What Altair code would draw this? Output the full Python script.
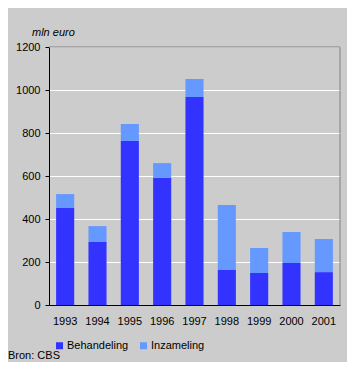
import altair as alt
import pandas as pd

years = ["1993", "1994", "1995", "1996", "1997", "1998", "1999", "2000", "2001"]
behandeling = [451, 293, 763, 591, 967, 163, 149, 195, 153]
inzameling = [65, 74, 79, 69, 84, 302, 116, 145, 154]
series = ["Behandeling", "Inzameling"]
colors = ["#3333FF", "#6699FF"]
y_ticks = [0, 200, 400, 600, 800, 1000, 1200]
unit_label = "mln euro"
source_label = "Bron: CBS"

rows = []
for i, yr in enumerate(years):
    rows.append({"jaar": yr, "soort": series[0], "waarde": behandeling[i], "volg": 0})
    rows.append({"jaar": yr, "soort": series[1], "waarde": inzameling[i], "volg": 1})
df = pd.DataFrame(rows)

font = "Liberation Sans"

bars = alt.Chart(df).mark_bar(strokeWidth=0).encode(
    x=alt.X(
        "jaar:N", title=None, sort=years,
        scale=alt.Scale(paddingInner=0.44, paddingOuter=0.22),
        axis=alt.Axis(labelAngle=0, ticks=False, tickSize=0, labelPadding=10,
                      domainColor="black", labelColor="black", labelFont=font,
                      labelFontSize=11, grid=False),
    ),
    y=alt.Y(
        "waarde:Q", stack="zero", title=None,
        scale=alt.Scale(domain=[0, 1200], nice=False),
        axis=alt.Axis(values=y_ticks, format="d", tickSize=4, labelPadding=5,
                      tickColor="black", domainColor="black", gridColor="white",
                      gridOpacity=1, labelColor="black", labelFont=font,
                      labelFontSize=11),
    ),
    color=alt.Color(
        "soort:N",
        scale=alt.Scale(domain=series, range=colors),
        legend=alt.Legend(orient="none", legendX=5, legendY=293, direction="horizontal",
                          title=None, symbolType="square", symbolSize=49,
                          symbolStrokeWidth=0, labelFontSize=11, labelFont=font,
                          labelColor="black", columnPadding=9, padding=0, labelOffset=2),
    ),
    order=alt.Order("volg:Q"),
)

top_rule = alt.Chart(alt.Data(values=[{"v": 1200}])).mark_rule(color="#808080").encode(
    y="v:Q"
)
right_rule = alt.Chart(alt.Data(values=[{}])).mark_rule(color="#808080").encode(
    x=alt.value(291), y=alt.value(0), y2=alt.value(258)
)

unit_text = alt.Chart(alt.Data(values=[{"t": unit_label}])).mark_text(
    align="left", baseline="alphabetic", fontStyle="italic", font=font,
    fontSize=11, color="black"
).encode(x=alt.value(-17), y=alt.value(-11), text="t:N")

source_text = alt.Chart(alt.Data(values=[{"t": source_label}])).mark_text(
    align="left", baseline="alphabetic", font=font, fontSize=11, color="black"
).encode(x=alt.value(-41), y=alt.value(312), text="t:N")

chart = alt.layer(bars, top_rule, right_rule, unit_text, source_text).properties(
    width=291, height=258,
    autosize=alt.AutoSizeParams(type="none"),
    padding={"left": 41, "top": 39, "right": 7, "bottom": 57},
    background="#CCCCCC",
).configure_view(stroke="transparent")

chart.save("out.html", embed_options={"renderer": "svg", "actions": False})
